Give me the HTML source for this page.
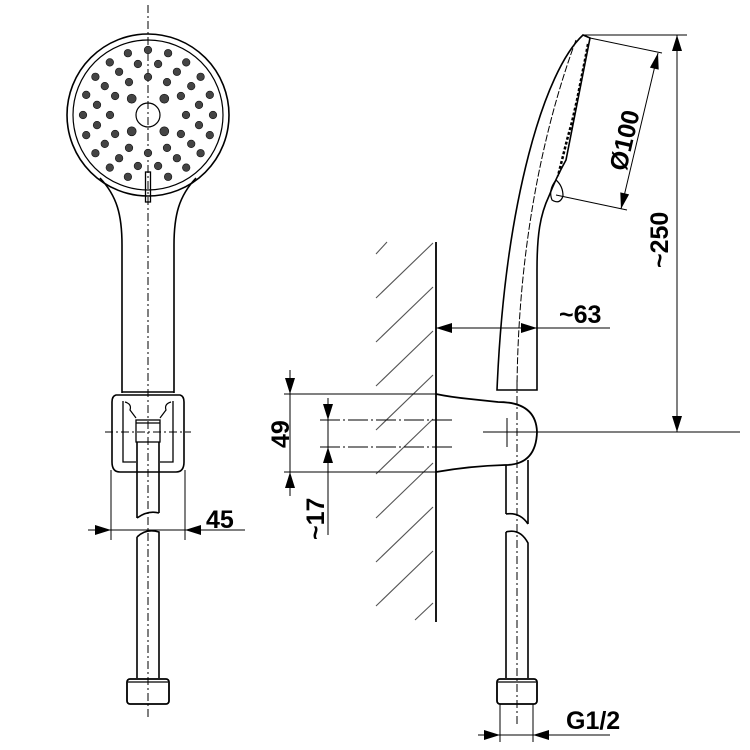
<!DOCTYPE html>
<html><head><meta charset="utf-8"><style>html,body{margin:0;padding:0;background:#fff}svg{display:block}</style></head>
<body>
<svg width="750" height="750" viewBox="0 0 750 750" xmlns="http://www.w3.org/2000/svg" font-family="Liberation Sans, sans-serif">
<g fill="none" stroke="#000" stroke-width="1.6">
<!-- LEFT VIEW -->
<line x1="148" y1="5" x2="148" y2="720" stroke-width="1" stroke-dasharray="8,3,2,3"/>
<circle cx="148" cy="115" r="81"/>
<circle cx="148" cy="115" r="75" stroke-width="1.2"/>
<circle cx="148" cy="115" r="12" stroke-width="1.2"/>
<rect x="145.5" y="172" width="5" height="30" stroke-width="1.3"/>
<path d="M100,178 C117,196 122,215 122,245 L122,393"/>
<path d="M196,178 C179,196 174,215 174,245 L174,393"/>
<line x1="122" y1="392" x2="174" y2="392"/>
<path d="M116,395 L180,395 Q184,396 184,402 L184,462 Q184,472 176,472 L120,472 Q112,472 112,462 L112,402 Q112,396 116,395 Z"/>
<path d="M123,401 L123,462 L136,462 M173,401 L173,462 L160,462" stroke-width="1.3"/>
<path d="M125,402 Q132,404 130,410 L136,418 M171,402 Q164,404 166,410 L160,418" stroke-width="1.2"/>
<rect x="136" y="420" width="24" height="22" stroke-width="1.3"/>
<line x1="136" y1="423" x2="160" y2="423" stroke-width="1.2"/>
<line x1="105" y1="432" x2="191" y2="432" stroke-width="1" stroke-dasharray="8,3,2,3"/>
<path d="M137,442 L137,518 M159,442 L159,513 M137,518 Q148,510 159,513"/>
<path d="M137,537 Q146,528 159,532 L159,678 M137,537 L137,678"/>
<rect x="127" y="679" width="42" height="25" rx="3" stroke-width="1.8"/>
<line x1="128" y1="682" x2="168" y2="682" stroke-width="1.2"/>
<line x1="111" y1="470" x2="111" y2="540" stroke-width="1"/>
<line x1="185" y1="470" x2="185" y2="540" stroke-width="1"/>
<line x1="88" y1="530" x2="245" y2="530" stroke-width="1"/>

<!-- RIGHT VIEW: wall -->
<line x1="436" y1="242" x2="436" y2="622" stroke-width="1.8"/>
<g stroke="#555" stroke-width="1.1">
<line x1="376" y1="254" x2="387" y2="242"/>
<line x1="376" y1="298" x2="433" y2="243"/>
<line x1="376" y1="342" x2="433" y2="287"/>
<line x1="376" y1="386" x2="433" y2="331"/>
<line x1="376" y1="430" x2="433" y2="375"/>
<line x1="376" y1="474" x2="433" y2="419"/>
<line x1="376" y1="518" x2="433" y2="463"/>
<line x1="376" y1="562" x2="433" y2="507"/>
<line x1="376" y1="606" x2="433" y2="551"/>
<line x1="415" y1="620" x2="433" y2="603"/>
</g>
<path d="M436,394 Q450,397 470,399 L498,402 Q536,402 537,432 Q536,465 505,465 Q470,466 436,472" stroke-width="1.8"/>
<line x1="507" y1="418" x2="507" y2="447" stroke-width="1"/>
<line x1="483" y1="432" x2="740" y2="432" stroke-width="1"/>
<line x1="320" y1="420" x2="455" y2="420" stroke-width="1" stroke-dasharray="20,3,2,3"/>
<line x1="320" y1="447" x2="455" y2="447" stroke-width="1" stroke-dasharray="20,3,2,3"/>
<line x1="284" y1="394" x2="436" y2="394" stroke-width="1"/>
<line x1="284" y1="472" x2="436" y2="472" stroke-width="1"/>
<path d="M506,465 L506,514 M528,460 L528,524 M506,514 Q520,512 528,524"/>
<path d="M506,532 Q520,528 528,543 L528,678 M506,532 L506,678"/>
<line x1="517" y1="380" x2="517" y2="725" stroke-width="1" stroke-dasharray="8,3,2,3"/>
<rect x="497" y="679" width="40" height="25" rx="3" stroke-width="1.8"/>
<line x1="498" y1="682" x2="536" y2="682" stroke-width="1.2"/>
<path d="M500,704 L500,742 M533,704 L533,742" stroke-width="1"/>
<line x1="478" y1="735" x2="610" y2="735" stroke-width="1"/>
<!-- handle right -->
<path d="M583,35 C545,70 505,200 497,390 L537,390 L537,270 C537,235 540,215 549,196 Q556,178 566,160 L590,38 Z"/>
<path d="M576,40 C550,110 518,230 517,390" stroke-width="1" stroke-dasharray="7,2"/>
<path d="M556,180 Q548,190 552,200 Q560,205 563,196 Q563,186 556,180 Z" stroke-width="1.2"/>
<path d="M588,44 L585,60 L581,80 L577,100 L572,122 L567,140 L562,160 L558,176" stroke-width="2.5" stroke-dasharray="3,2"/>
<line x1="583" y1="35" x2="687" y2="35" stroke-width="1"/>
<line x1="537" y1="432" x2="687" y2="432" stroke-width="1"/>
<line x1="677" y1="35" x2="677" y2="432" stroke-width="1"/>
<line x1="590" y1="38" x2="662" y2="53" stroke-width="1"/>
<line x1="556" y1="195" x2="627" y2="210" stroke-width="1"/>
<line x1="658" y1="53" x2="621" y2="209" stroke-width="1"/>
<line x1="436" y1="328" x2="610" y2="328" stroke-width="1"/>
<line x1="290" y1="370" x2="290" y2="496" stroke-width="1"/>
<line x1="328" y1="398" x2="328" y2="535" stroke-width="1"/>
</g>
<!-- arrowheads -->
<g fill="#000">
<polygon points="111,530 95,525 95,535"/><polygon points="185,530 201,525 201,535"/>
<polygon points="500,735 484,730 484,740"/><polygon points="533,735 549,730 549,740"/>
<polygon points="677,35 672,51 682,51"/><polygon points="677,432 672,416 682,416"/>
<polygon points="658,53 658.7,69.6 649.9,67.6"/><polygon points="621,209 629.1,194.4 620.3,192.4"/>
<polygon points="436,328 452,323 452,333"/><polygon points="537,328 521,323 521,333"/>
<polygon points="290,394 285,378 295,378"/><polygon points="290,472 285,488 295,488"/>
<polygon points="328,420 323,404 333,404"/><polygon points="328,447 323,463 333,463"/>
</g>
<g fill="#444" stroke="#111" stroke-width="0.6">
<circle cx="164.3" cy="98.7" r="4.5"/><circle cx="131.7" cy="98.7" r="4.5"/><circle cx="131.7" cy="131.3" r="4.5"/><circle cx="164.3" cy="131.3" r="4.5"/>
<circle cx="186" cy="115" r="3.8"/><circle cx="180.9" cy="134" r="3.8"/><circle cx="167" cy="147.9" r="3.8"/><circle cx="148" cy="153" r="3.8"/><circle cx="129" cy="147.9" r="3.8"/><circle cx="115.1" cy="134" r="3.8"/><circle cx="110" cy="115" r="3.8"/><circle cx="115.1" cy="96" r="3.8"/><circle cx="129" cy="82.1" r="3.8"/><circle cx="148" cy="77" r="3.8"/><circle cx="167" cy="82.1" r="3.8"/><circle cx="180.9" cy="96" r="3.8"/>
<circle cx="199" cy="125.1" r="3.8"/><circle cx="191.2" cy="143.9" r="3.8"/><circle cx="176.9" cy="158.2" r="3.8"/><circle cx="158.1" cy="166" r="3.8"/><circle cx="137.9" cy="166" r="3.8"/><circle cx="119.1" cy="158.2" r="3.8"/><circle cx="104.8" cy="143.9" r="3.8"/><circle cx="97" cy="125.1" r="3.8"/><circle cx="97" cy="104.9" r="3.8"/><circle cx="104.8" cy="86.1" r="3.8"/><circle cx="119.1" cy="71.8" r="3.8"/><circle cx="137.9" cy="64" r="3.8"/><circle cx="158.1" cy="64" r="3.8"/><circle cx="176.9" cy="71.8" r="3.8"/><circle cx="191.2" cy="86.1" r="3.8"/><circle cx="199" cy="104.9" r="3.8"/>
<circle cx="213" cy="115" r="3.8"/><circle cx="209.8" cy="135.1" r="3.8"/><circle cx="200.6" cy="153.2" r="3.8"/><circle cx="186.2" cy="167.6" r="3.8"/><circle cx="168.1" cy="176.8" r="3.8"/><circle cx="127.9" cy="176.8" r="3.8"/><circle cx="109.8" cy="167.6" r="3.8"/><circle cx="95.4" cy="153.2" r="3.8"/><circle cx="86.2" cy="135.1" r="3.8"/><circle cx="83" cy="115" r="3.8"/><circle cx="86.2" cy="94.9" r="3.8"/><circle cx="95.4" cy="76.8" r="3.8"/><circle cx="109.8" cy="62.4" r="3.8"/><circle cx="127.9" cy="53.2" r="3.8"/><circle cx="148" cy="50" r="3.8"/><circle cx="168.1" cy="53.2" r="3.8"/><circle cx="186.2" cy="62.4" r="3.8"/><circle cx="200.6" cy="76.8" r="3.8"/><circle cx="209.8" cy="94.9" r="3.8"/>
</g>
<g fill="#000" font-weight="bold" font-size="25">
<text x="206" y="528">45</text>
<text x="559" y="323">~63</text>
<text x="566" y="729">G1/2</text>
<text transform="translate(668,268) rotate(-90)">~250</text>
<text transform="translate(626,172) rotate(-77)">Ø100</text>
<text transform="translate(289,448) rotate(-90)">49</text>
<text transform="translate(324,540) rotate(-90)">~17</text>
</g>
</svg>
</body></html>
